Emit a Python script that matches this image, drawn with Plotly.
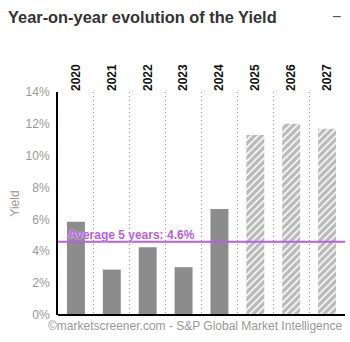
import plotly.graph_objects as go

# Yield by year: reported (2020-2024) and estimated (2025-2027)
years = ["2020", "2021", "2022", "2023", "2024", "2025", "2026", "2027"]
yield_pct = [5.85, 2.85, 4.25, 3.0, 6.65, 11.3, 12.0, 11.7]
is_estimate = [False, False, False, False, False, True, True, True]
avg_5y = 4.6
avg_label = "Average 5 years: 4.6%"
y_ticks = [0, 2, 4, 6, 8, 10, 12, 14]
y_tick_labels = [f"{v}%" for v in y_ticks]

font_family = "Liberation Sans, Arial, Helvetica, sans-serif"
bar_grey = "#8c8c8c"
purple = "#b95ee8"

fig = go.Figure()

fig.add_trace(go.Bar(
    x=[y for y, e in zip(years, is_estimate) if not e],
    y=[v for v, e in zip(yield_pct, is_estimate) if not e],
    marker=dict(color=bar_grey, line=dict(width=0)),
    width=0.5,
    hoverinfo="x+y",
))
fig.add_trace(go.Bar(
    x=[y for y, e in zip(years, is_estimate) if e],
    y=[v for v, e in zip(yield_pct, is_estimate) if e],
    marker=dict(
        color="white",
        line=dict(width=0),
        pattern=dict(shape="/", fgcolor="#757575", bgcolor="white", size=5, solidity=0.7),
    ),
    width=0.5,
    hoverinfo="x+y",
))

# 5-year average reference line
fig.add_shape(type="line", xref="paper", yref="y", x0=0, x1=1, y0=avg_5y, y1=avg_5y,
              line=dict(color=purple, width=2))
fig.add_annotation(xref="paper", yref="y", x=9/287, y=avg_5y, text=f"<b>{avg_label}</b>",
                   showarrow=False, xanchor="left", yanchor="bottom", yshift=-1,
                   borderpad=0,
                   font=dict(family=font_family, size=12, color=purple, weight="bold",
                             shadow="0px 0px 2px white"))

# Header and footer
fig.add_annotation(xref="paper", yref="paper", x=-51/287, y=1 + 75/223, text="<b>Year-on-year evolution of the Yield</b>",
                   showarrow=False, xanchor="left", yanchor="middle", borderpad=0,
                   font=dict(family=font_family, size=16.4, color="#333333"))
fig.add_annotation(xref="paper", yref="paper", x=1 - 2/287, y=1 + 75/223, text="−",
                   showarrow=False, xanchor="right", yanchor="middle",
                   font=dict(family=font_family, size=16, color="#555555"))
fig.add_annotation(xref="paper", yref="paper", x=(195 - 58) / 287, y=-11/223,
                   text="©marketscreener.com - S&P Global Market Intelligence",
                   showarrow=False, xanchor="center", yanchor="middle",
                   font=dict(family=font_family, size=12, color="#999999"))

fig.update_layout(
    width=350, height=342,
    margin=dict(l=58, r=5, t=92, b=27),
    paper_bgcolor="white", plot_bgcolor="white",
    showlegend=False,
    bargap=0.5,
    barmode="overlay",
    font=dict(family=font_family),
    xaxis=dict(
        type="category", categoryorder="array", categoryarray=years,
        side="top", tickangle=-90, tickson="boundaries",
        tickfont=dict(family=font_family, size=12, color="#111111", weight="bold"),
        showgrid=True, gridcolor="#999999", griddash="1px,3px", gridwidth=1,
        ticks="", showline=False, zeroline=False,
    ),
    yaxis=dict(
        range=[0, 14], tickvals=y_ticks, ticktext=y_tick_labels,
        tickfont=dict(family=font_family, size=12, color="#999999"),
        showgrid=False, zeroline=False,
        showline=True, linecolor="black", linewidth=2,
        ticks="", ticklabelstandoff=4,
        title=dict(text="Yield", font=dict(family=font_family, size=12, color="#999999"), standoff=3),
    ),
)

# Bottom baseline
fig.add_shape(type="line", xref="paper", yref="paper", x0=0, x1=1, y0=0, y1=0,
              line=dict(color="black", width=2))

fig.write_html("out.html")
